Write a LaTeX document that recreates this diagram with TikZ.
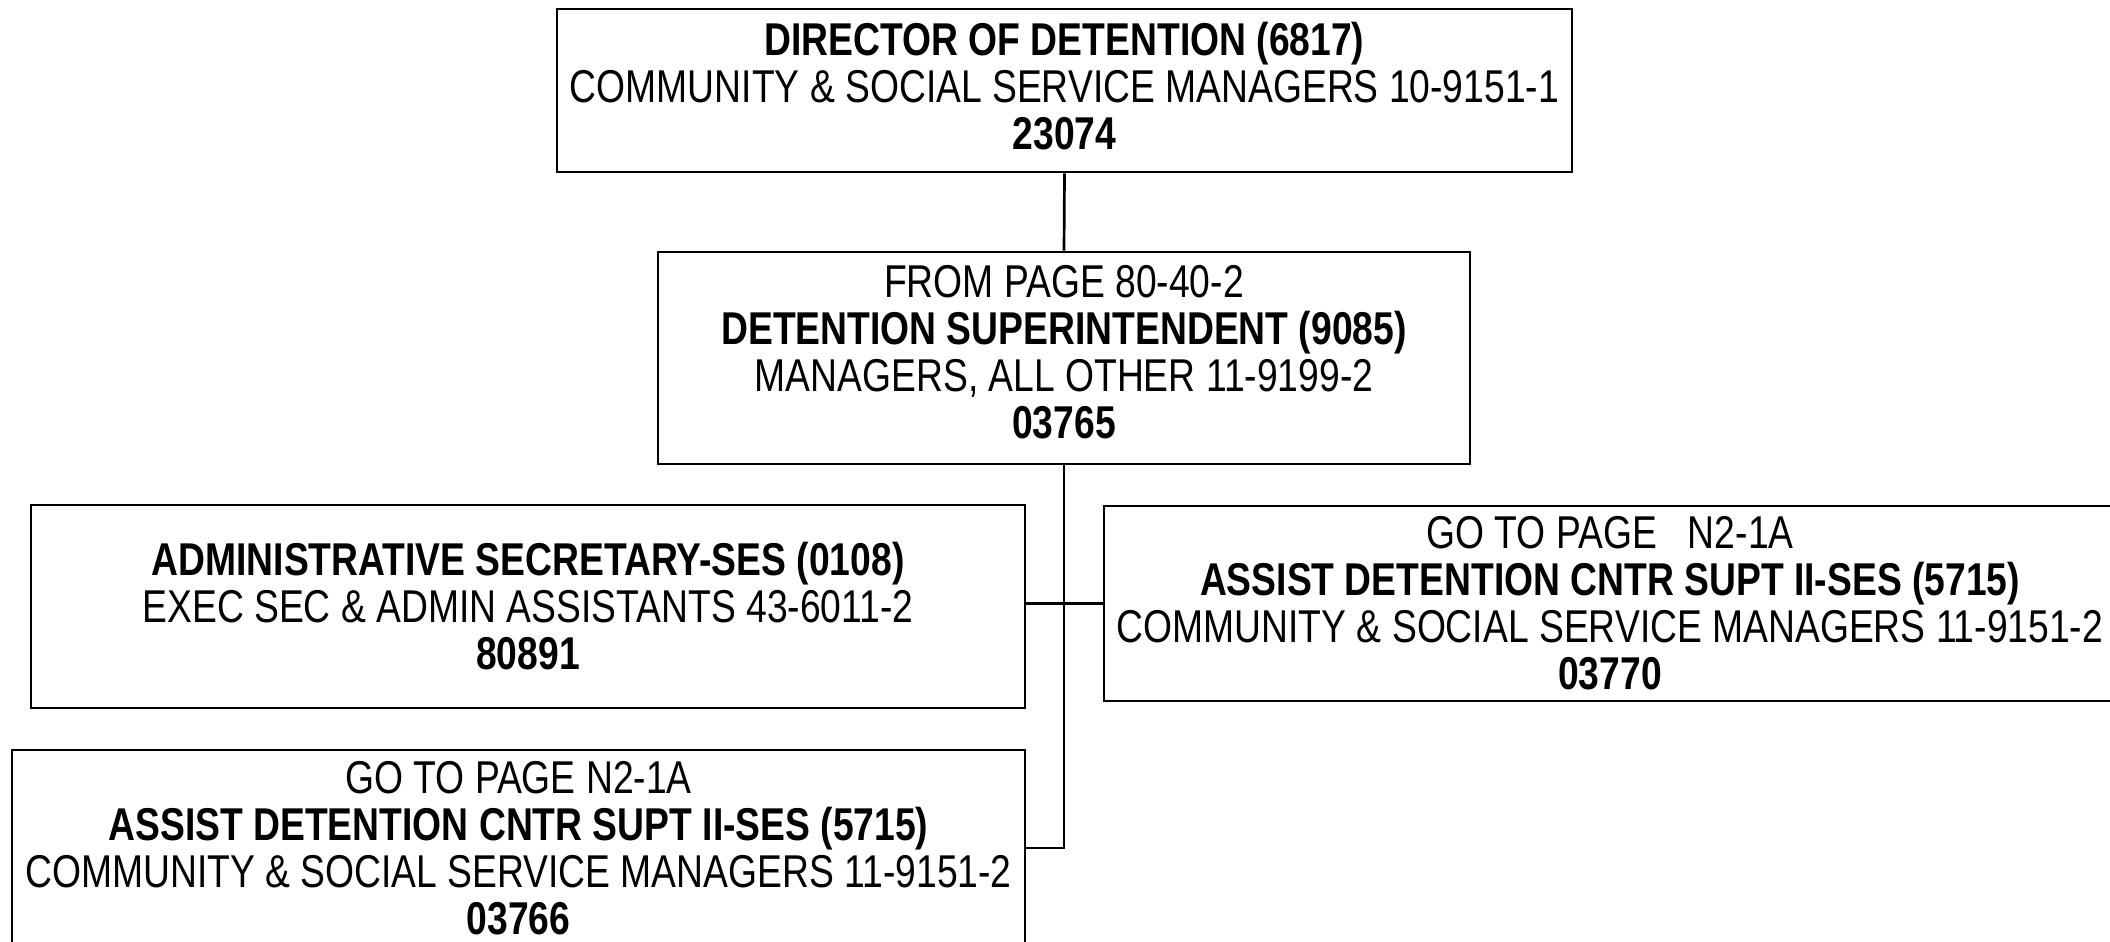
\documentclass[tikz,border=0pt]{standalone}
\usepackage{fontspec}
\setmainfont{Liberation Sans}[FakeStretch=0.81]
\begin{document}
\begin{tikzpicture}[x=1pt,y=-1pt,
  box/.style={draw=black,line width=2.7pt,rectangle,inner sep=0pt,fill=white},
  txt/.style={align=center,inner sep=0pt,font=\fontsize{46}{47}\selectfont},
  link/.style={draw=black,line width=2.7pt}]
\useasboundingbox (0,0) rectangle (2110,942);
\clip (0,0) rectangle (2110,942);
\fill[white] (0,0) rectangle (2110,942);

% boxes
\node[box,minimum width=1015pt,minimum height=163pt] (dir) at (1064.5,90.5) {};
\node[box,minimum width=812pt,minimum height=212pt] (sup) at (1064,358) {};
\node[box,minimum width=994pt,minimum height=203pt] (adm) at (528,606.5) {};
\node[box,minimum width=1012pt,minimum height=195pt] (ast) at (1610,603.5) {};
\node[box,minimum width=1013pt,minimum height=196pt] (bot) at (518.5,848) {};

% connectors
\draw[link] (dir.south) -- (sup.north);
\draw[link] (sup.south) |- (bot.east);
\draw[link] (ast.west -| adm.east) -- (ast.west);

% texts
\node[txt] (dirT) at ([yshift=4pt]dir.center) {\textbf{DIRECTOR OF DETENTION (6817)}\\COMMUNITY \& SOCIAL SERVICE MANAGERS 10-9151-1\\\textbf{23074}};
\node[txt] (supT) at ([yshift=6pt]sup.center) {FROM PAGE 80-40-2\\\textbf{DETENTION SUPERINTENDENT (9085)}\\MANAGERS, ALL OTHER 11-9199-2\\\textbf{03765}};
\node[txt] (admT) at (adm.center) {\textbf{ADMINISTRATIVE SECRETARY-SES (0108)}\\EXEC SEC \& ADMIN ASSISTANTS 43-6011-2\\\textbf{80891}};
\node[txt] (astT) at (ast.center) {GO TO PAGE\ \ \ N2-1A\\\textbf{ASSIST DETENTION CNTR SUPT II-SES (5715)}\\COMMUNITY \& SOCIAL SERVICE MANAGERS 11-9151-2\\\textbf{03770}};
\node[txt] (botT) at (bot.center) {GO TO PAGE N2-1A\\\textbf{ASSIST DETENTION CNTR SUPT II-SES (5715)}\\COMMUNITY \& SOCIAL SERVICE MANAGERS 11-9151-2\\\textbf{03766}};
\end{tikzpicture}
\end{document}
